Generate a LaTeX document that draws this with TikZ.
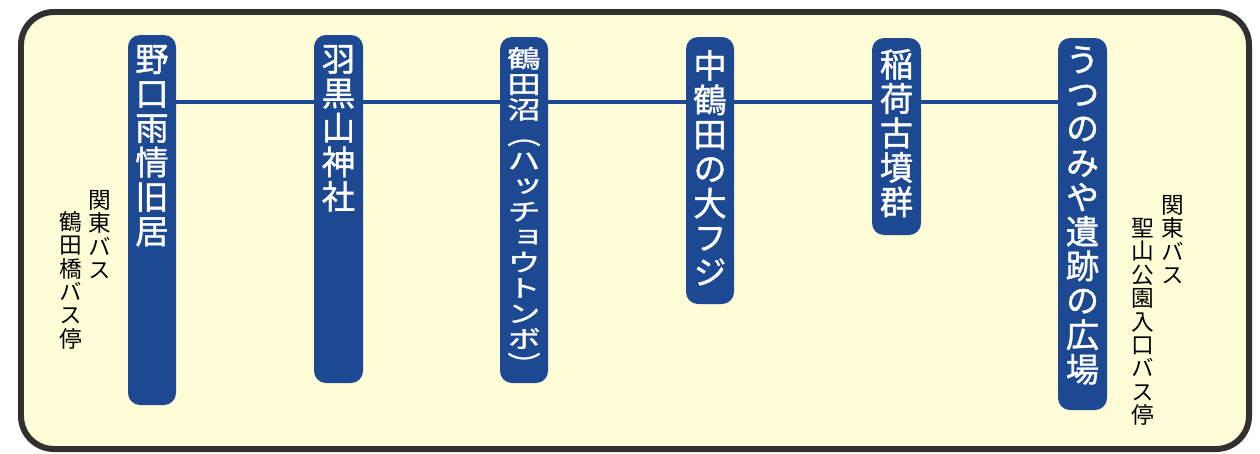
\documentclass[tikz,border=0pt]{standalone}
\usepackage{fontspec}
\usepackage{graphicx}
\newfontfamily\cjkv[RawFeature=+vert]{Noto Sans CJK JP}
\newfontfamily\cjkvm[RawFeature=+vert, FakeBold=1.2]{Noto Sans CJK JP}
\usetikzlibrary{positioning, fit}

\definecolor{cardfill}{RGB}{255,253,216}
\definecolor{cardline}{RGB}{48,48,48}
\definecolor{stopblue}{RGB}{28,73,145}

% one character per line, #1 = vertical squeeze
\newcommand{\tate}[2]{\scalebox{1}[#1]{\parbox{1em}{\centering #2}}}

\tikzset{
  card/.style={draw=cardline, fill=cardfill, line width=0.12cm, rounded corners=0.66cm},
  stopbox/.style={draw=none, fill=stopblue, rounded corners=0.24cm, inner sep=0pt},
  stopname/.style={inner sep=0pt, text=white, font=\cjkvm\fontsize{19}{19.6}\selectfont},
  busname/.style={anchor=north, inner sep=0pt, font=\cjkv\fontsize{12.9}{13.3}\selectfont},
  rail/.style={draw=stopblue, line width=0.08cm},
}

\begin{document}
\begin{tikzpicture}[x=0.02cm, y=-0.02cm]
  \useasboundingbox[fill=white] (0,0) rectangle (1260,453);
  \draw[card] (21,12) rectangle (1249,449);

  % stops
  \node[stopbox, fit={(128,35) (176,405)}] (s1) {};
  \node[stopbox, fit={(314,35) (363,383)}] (s2) {};
  \node[stopbox, fit={(500,37) (548,383)}] (s3) {};
  \node[stopbox, fit={(686,37) (734,304)}] (s4) {};
  \node[stopbox, fit={(872,38) (921,235)}] (s5) {};
  \node[stopbox, fit={(1058,38) (1107,410)}] (s6) {};

  \coordinate (railway) at (0,102);
  \foreach \a/\b in {s1/s2, s2/s3, s3/s4, s4/s5, s5/s6}
    \draw[rail] (\a.east |- railway) -- (\b.west |- railway);

  \node[stopname, below=0.2cm of s1.north] (t1) {\tate{1}{野\\口\\雨\\情\\旧\\居}};
  \node[stopname, below=0.2cm of s2.north] (t2) {\tate{1}{羽\\黒\\山\\神\\社}};
  \node[stopname, below=0.2cm of s3.north] (t3) {\tate{0.74}{鶴\\田\\沼\\（\\ハ\\ッ\\チ\\ョ\\ウ\\ト\\ン\\ボ\\）}};
  \node[stopname, below=0.26cm of s4.north] (t4) {\tate{1}{中\\鶴\\田\\の\\大\\フ\\ジ}};
  \node[stopname, below=0.22cm of s5.north] (t5) {\tate{1}{稲\\荷\\古\\墳\\群}};
  \node[stopname, below=0.16cm of s6.north] (t6) {\tate{1}{う\\つ\\の\\み\\や\\遺\\跡\\の\\広\\場}};

  % bus stops
  \node[busname] (bus-l1) at (100,190) {\tate{1}{関\\東\\バ\\ス}};
  \node[busname] (bus-l2) at (71,211) {\tate{1}{鶴\\田\\橋\\バ\\ス\\停}};
  \node[busname] (bus-r1) at (1173,195) {\tate{1}{関\\東\\バ\\ス}};
  \node[busname] (bus-r2) at (1143,218) {\tate{1}{聖\\山\\公\\園\\入\\口\\バ\\ス\\停}};
\end{tikzpicture}
\end{document}
